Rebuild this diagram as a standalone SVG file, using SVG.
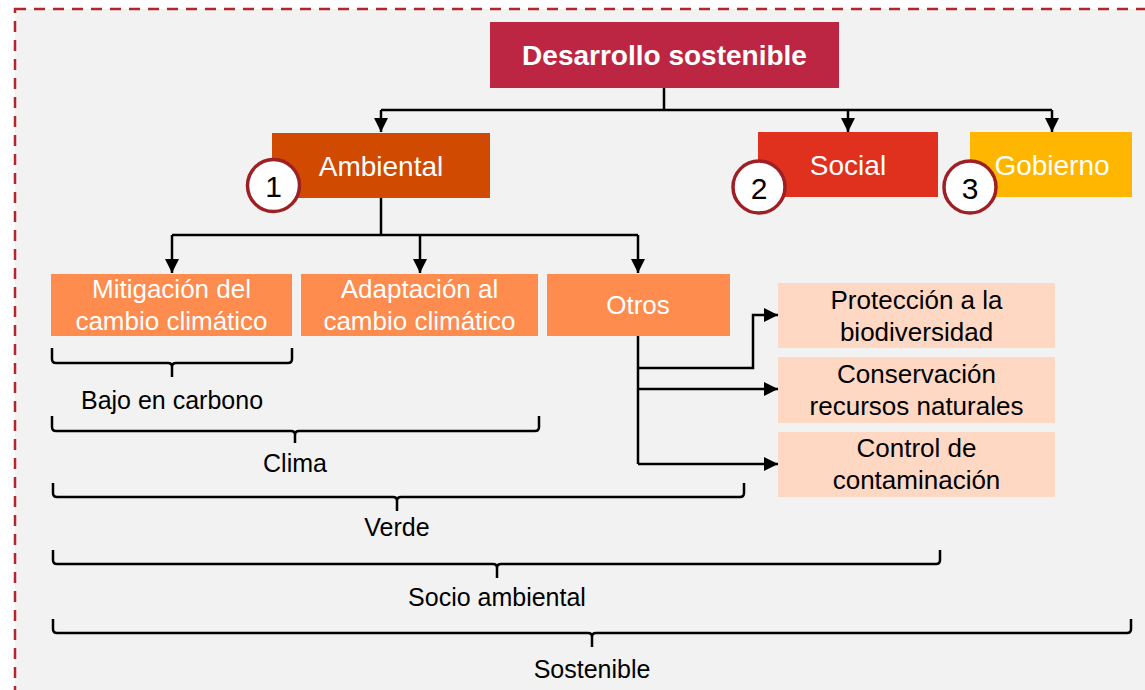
<svg xmlns="http://www.w3.org/2000/svg" width="1145" height="690" viewBox="0 0 1145 690">
<defs>
<style>
.t{font-family:"Liberation Sans",Arial,sans-serif;text-anchor:middle}
.w{fill:#ffffff}
.k{fill:#000000}
.l1{font-size:28px}
.l2{font-size:26px}
.lb{font-size:25px}
.ln{fill:none;stroke:#000;stroke-width:2.5}
.br{fill:none;stroke:#000;stroke-width:2.5;stroke-linejoin:round}
.c{fill:#fff;stroke:#9e1f24;stroke-width:3.5}
</style>
<marker id="ah" viewBox="0 0 10 10" refX="10" refY="5" markerWidth="14" markerHeight="14" markerUnits="userSpaceOnUse" orient="auto">
<path d="M0,0 L10,5 L0,10 Z" fill="#000"/>
</marker>
</defs>
<rect x="0" y="0" width="1145" height="690" fill="#ffffff"/>
<rect x="15" y="9" width="1145" height="700" fill="#f2f2f2" stroke="#b0282e" stroke-width="2.5" stroke-dasharray="11,8"/>

<g id="connectors">
<path class="ln" d="M664,88 V110 M381,110 H1052"/>
<path class="ln" d="M381,110 V132" marker-end="url(#ah)"/>
<path class="ln" d="M848,110 V132" marker-end="url(#ah)"/>
<path class="ln" d="M1052,110 V132" marker-end="url(#ah)"/>
<path class="ln" d="M381,198 V235 M172,235 H638"/>
<path class="ln" d="M172,235 V273" marker-end="url(#ah)"/>
<path class="ln" d="M420,235 V273" marker-end="url(#ah)"/>
<path class="ln" d="M638,235 V273" marker-end="url(#ah)"/>
<path class="ln" d="M638,336 V464"/>
<path class="ln" d="M638,368 H753 V315 H778" marker-end="url(#ah)"/>
<path class="ln" d="M638,389 H778" marker-end="url(#ah)"/>
<path class="ln" d="M638,464 H778" marker-end="url(#ah)"/>
</g>

<g id="braces">
<path class="br" d="M52,348 V359 Q52,363 56,363 H168 Q172,363 172,367 V377 M172,367 Q172,363 176,363 H288 Q292,363 292,359 V348"/>
<path class="br" d="M52,416 V427 Q52,431 56,431 H291 Q295,431 295,435 V443 M295,435 Q295,431 299,431 H535 Q539,431 539,427 V416"/>
<path class="br" d="M53,483 V493 Q53,497 57,497 H393 Q397,497 397,501 V511 M397,501 Q397,497 401,497 H740 Q744,497 744,493 V483"/>
<path class="br" d="M53,550 V560 Q53,564 57,564 H493 Q497,564 497,568 V578 M497,568 Q497,564 501,564 H936 Q940,564 940,560 V550"/>
<path class="br" d="M53,619 V629 Q53,633 57,633 H588 Q592,633 592,637 V647 M592,637 Q592,633 596,633 H1127 Q1131,633 1131,629 V619"/>
</g>

<g id="node-desarrollo">
<rect x="490" y="22" width="349" height="66" fill="#bc2642"/>
<text class="t w" x="664.5" y="65" font-size="28" font-weight="bold">Desarrollo sostenible</text>
</g>

<g id="node-ambiental">
<rect x="272" y="133" width="218" height="65" fill="#d04a02"/>
<text class="t w l1" x="381" y="176">Ambiental</text>
</g>
<g id="node-social">
<rect x="758" y="132" width="180" height="65" fill="#e0301e"/>
<text class="t w l1" x="848" y="175">Social</text>
</g>
<g id="node-gobierno">
<rect x="970" y="132" width="162" height="65" fill="#ffb600"/>
<text class="t w l1" x="1052" y="175">Gobierno</text>
</g>

<g id="badge-1">
<circle class="c" cx="273.5" cy="185.5" r="26"/>
<text class="t k" x="273.5" y="197" font-size="30">1</text>
</g>
<g id="badge-2">
<circle class="c" cx="759" cy="187" r="26"/>
<text class="t k" x="759" y="198.5" font-size="30">2</text>
</g>
<g id="badge-3">
<circle class="c" cx="970" cy="187" r="26"/>
<text class="t k" x="970" y="198.5" font-size="30">3</text>
</g>

<g id="node-mitigacion">
<rect x="51" y="274" width="241" height="62" fill="#fd8c4e"/>
<text class="t w l2" x="171.5" y="298">Mitigación del</text>
<text class="t w l2" x="171.5" y="330">cambio climático</text>
</g>
<g id="node-adaptacion">
<rect x="301" y="274" width="237" height="62" fill="#fd8c4e"/>
<text class="t w l2" x="419.5" y="298">Adaptación al</text>
<text class="t w l2" x="419.5" y="330">cambio climático</text>
</g>
<g id="node-otros">
<rect x="547" y="274" width="183" height="62" fill="#fd8c4e"/>
<text class="t w l2" x="638" y="314">Otros</text>
</g>

<g id="node-proteccion">
<rect x="778" y="283" width="277" height="65" fill="#ffd8c4"/>
<text class="t k l2" x="916.5" y="309">Protección a la</text>
<text class="t k l2" x="916.5" y="341">biodiversidad</text>
</g>
<g id="node-conservacion">
<rect x="778" y="357" width="277" height="66" fill="#ffd8c4"/>
<text class="t k l2" x="916.5" y="383">Conservación</text>
<text class="t k l2" x="916.5" y="415">recursos naturales</text>
</g>
<g id="node-control">
<rect x="778" y="432" width="277" height="65" fill="#ffd8c4"/>
<text class="t k l2" x="916.5" y="457">Control de</text>
<text class="t k l2" x="916.5" y="489">contaminación</text>
</g>

<g id="labels">
<text class="t k lb" x="172" y="409">Bajo en carbono</text>
<text class="t k lb" x="295" y="472">Clima</text>
<text class="t k lb" x="397" y="536">Verde</text>
<text class="t k lb" x="497" y="606">Socio ambiental</text>
<text class="t k lb" x="592" y="678">Sostenible</text>
</g>
</svg>
